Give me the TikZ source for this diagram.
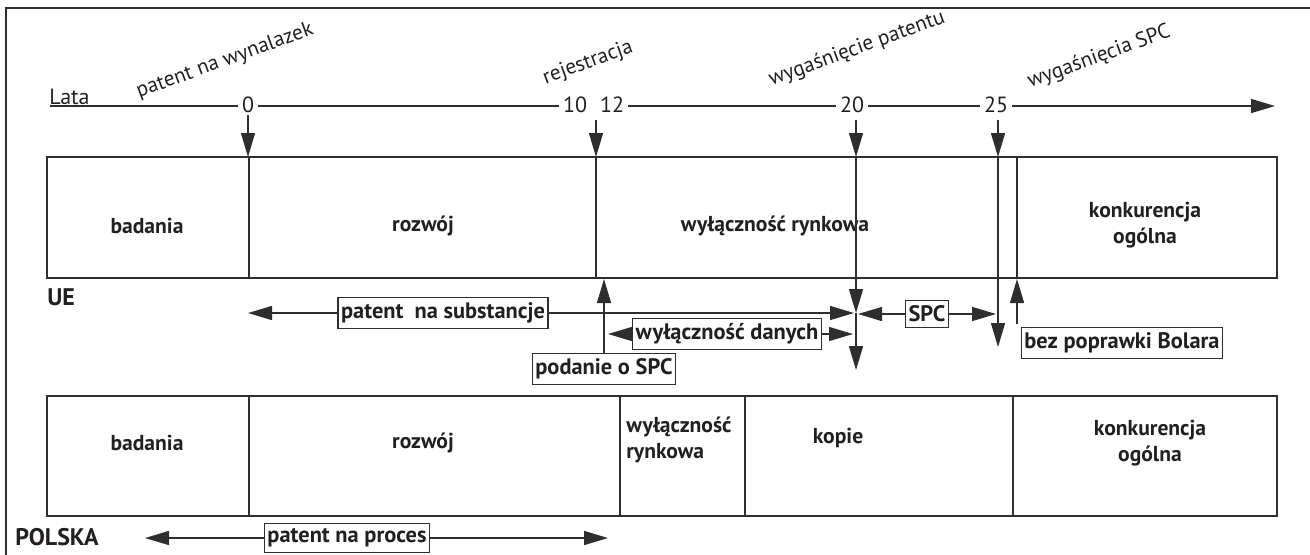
\documentclass[tikz,border=0pt]{standalone}
\usepackage{fontspec}
\setmainfont{PT Sans}
\usetikzlibrary{arrows.meta}
\definecolor{ink}{HTML}{231F20}
\definecolor{rule}{HTML}{2E2E2E}
\begin{document}
\begin{tikzpicture}[x=0.5pt,y=-0.5pt,
  ln/.style={draw=rule,line width=0.7pt},
  >={Triangle[length=12pt,width=7pt]},
  cell/.style={font=\bfseries\fontsize{10.8}{12.8}\selectfont,text=ink,align=center,inner sep=0pt},
  tag/.style={draw=rule,line width=0.7pt,fill=white,text=ink,font=\bfseries\fontsize{11.2}{13}\selectfont,inner xsep=1.5pt,inner ysep=2.6pt},
  num/.style={fill=white,text=ink,font=\fontsize{11}{13}\selectfont,inner xsep=1.8pt,inner ysep=1pt},
  event/.style={rotate=20,text=ink,font=\fontsize{10.6}{12}\selectfont,inner sep=0pt},
  region/.style={font=\bfseries\fontsize{12}{14}\selectfont,text=ink,inner sep=0pt}]
\useasboundingbox (0,0) rectangle (1310,554);
% frame
\draw[ln] (6,560) -- (6,8) -- (1316,8);
% timeline
\node[anchor=base west,inner sep=0pt,text=ink,font=\fontsize{11}{13}\selectfont] (lata) at (49,104) {Lata};
\coordinate (tstart) at (50,106);
\coordinate (tend) at (1275,106);
\node[num] (n0) at (248,105) {0};
\node[num] (n10) at (575,105) {10};
\node[num] (n12) at (612,105) {12};
\node[num] (n20) at (852,105) {20};
\node[num] (n25) at (996,105) {25};
\draw[ln] (tstart) -- (n0.west |- tstart);
\draw[ln] (n0.east |- tstart) -- (n10.west |- tstart);
\draw[ln] (n12.east |- tstart) -- (n20.west |- tstart);
\draw[ln] (n20.east |- tstart) -- (n25.west |- tstart);
\draw[ln,->] (n25.east |- tstart) -- (tend);
% events
\node[event] (ev0) at (225,61) {patent na wynalazek};
\node[event] (ev12) at (588,63) {rejestracja};
\node[event] (ev20) at (857,49) {wygaśnięcie patentu};
\node[event] (ev25) at (1099,57) {wygaśnięcia SPC};
% UE box
\draw[ln] (47,157) rectangle (1277,278);
\draw[ln] (249,157) -- (249,278);
\draw[ln] (596,157) -- (596,278);
\draw[ln] (1017,157) -- (1017,278);
\node[cell] (ue1) at (147,226) {badania};
\node[cell] (ue2) at (423,226) {rozwój};
\node[cell] (ue3) at (775,226) {wyłączność rynkowa};
\node[cell] (ue4) at (1145,225) {konkurencja\\ogólna};
\node[region,anchor=west] (ue) at (47,297) {UE};
% PL box
\draw[ln] (47,396) rectangle (1277,516);
\draw[ln] (249,396) -- (249,516);
\draw[ln] (620,396) -- (620,516);
\draw[ln] (745,396) -- (745,516);
\draw[ln] (1013,396) -- (1013,516);
\node[cell] (pl1) at (147,443) {badania};
\node[cell] (pl2) at (423,443) {rozwój};
\node[cell,align=left,anchor=west] (pl3) at (626,440) {wyłączność\\rynkowa};
\node[cell] (pl4) at (838,438) {kopie};
\node[cell] (pl5) at (1150,443) {konkurencja\\ogólna};
\node[region,anchor=west] (pl) at (15,537) {POLSKA};
% arrows from timeline
\coordinate (d0) at (248,115);
\coordinate (d0e) at (248,157);
\coordinate (d12) at (596,120);
\coordinate (d12e) at (596,157);
\coordinate (d20) at (856,120);
\coordinate (d20a) at (856,157);
\coordinate (d20b) at (856,313);
\coordinate (d20c) at (856,370);
\coordinate (d25) at (998,120);
\coordinate (d25a) at (998,157);
\coordinate (d25b) at (998,347);
\draw[ln,->] (d0) -- (d0e);
\draw[ln,->] (d12) -- (d12e);
\draw[ln,->] (d20) -- (d20a);
\draw[ln,->] (d20a) -- (d20b);
\draw[ln,->] (d20b) -- (d20c);
\draw[ln,->] (d25) -- (d25a);
\draw[ln,->] (d25a) -- (d25b);
% UE tags
\node[tag] (sub) at (443,313) {patent\ \ na substancje};
\coordinate (subL) at (248,313);
\coordinate (subR) at (854,313);
\draw[ln,->] (sub.west) -- (subL);
\draw[ln,->] (sub.east) -- (subR);
\node[tag] (dan) at (727,334) {wyłączność danych};
\coordinate (danL) at (608,334);
\coordinate (danR) at (853,334);
\draw[ln,->] (dan.west) -- (danL);
\draw[ln,->] (dan.east) -- (danR);
\node[tag] (spc) at (927,314) {SPC};
\coordinate (spcL) at (858,314);
\coordinate (spcR) at (996,314);
\draw[ln,->] (spc.west) -- (spcL);
\draw[ln,->] (spc.east) -- (spcR);
\node[tag] (pod) at (604,369) {podanie o SPC};
\coordinate (podT) at (604,279);
\draw[ln,->] (pod.north) -- (podT);
\node[tag] (bol) at (1122,343) {bez poprawki Bolara};
\coordinate (bolS) at (1017,324);
\coordinate (bolT) at (1017,279);
\draw[ln,->] (bolS) -- (bolT);
% PL tag
\node[tag] (proc) at (347,538) {patent na proces};
\coordinate (procL) at (145,538);
\coordinate (procR) at (608,538);
\draw[ln,->] (proc.west) -- (procL);
\draw[ln,->] (proc.east) -- (procR);
\end{tikzpicture}
\end{document}
